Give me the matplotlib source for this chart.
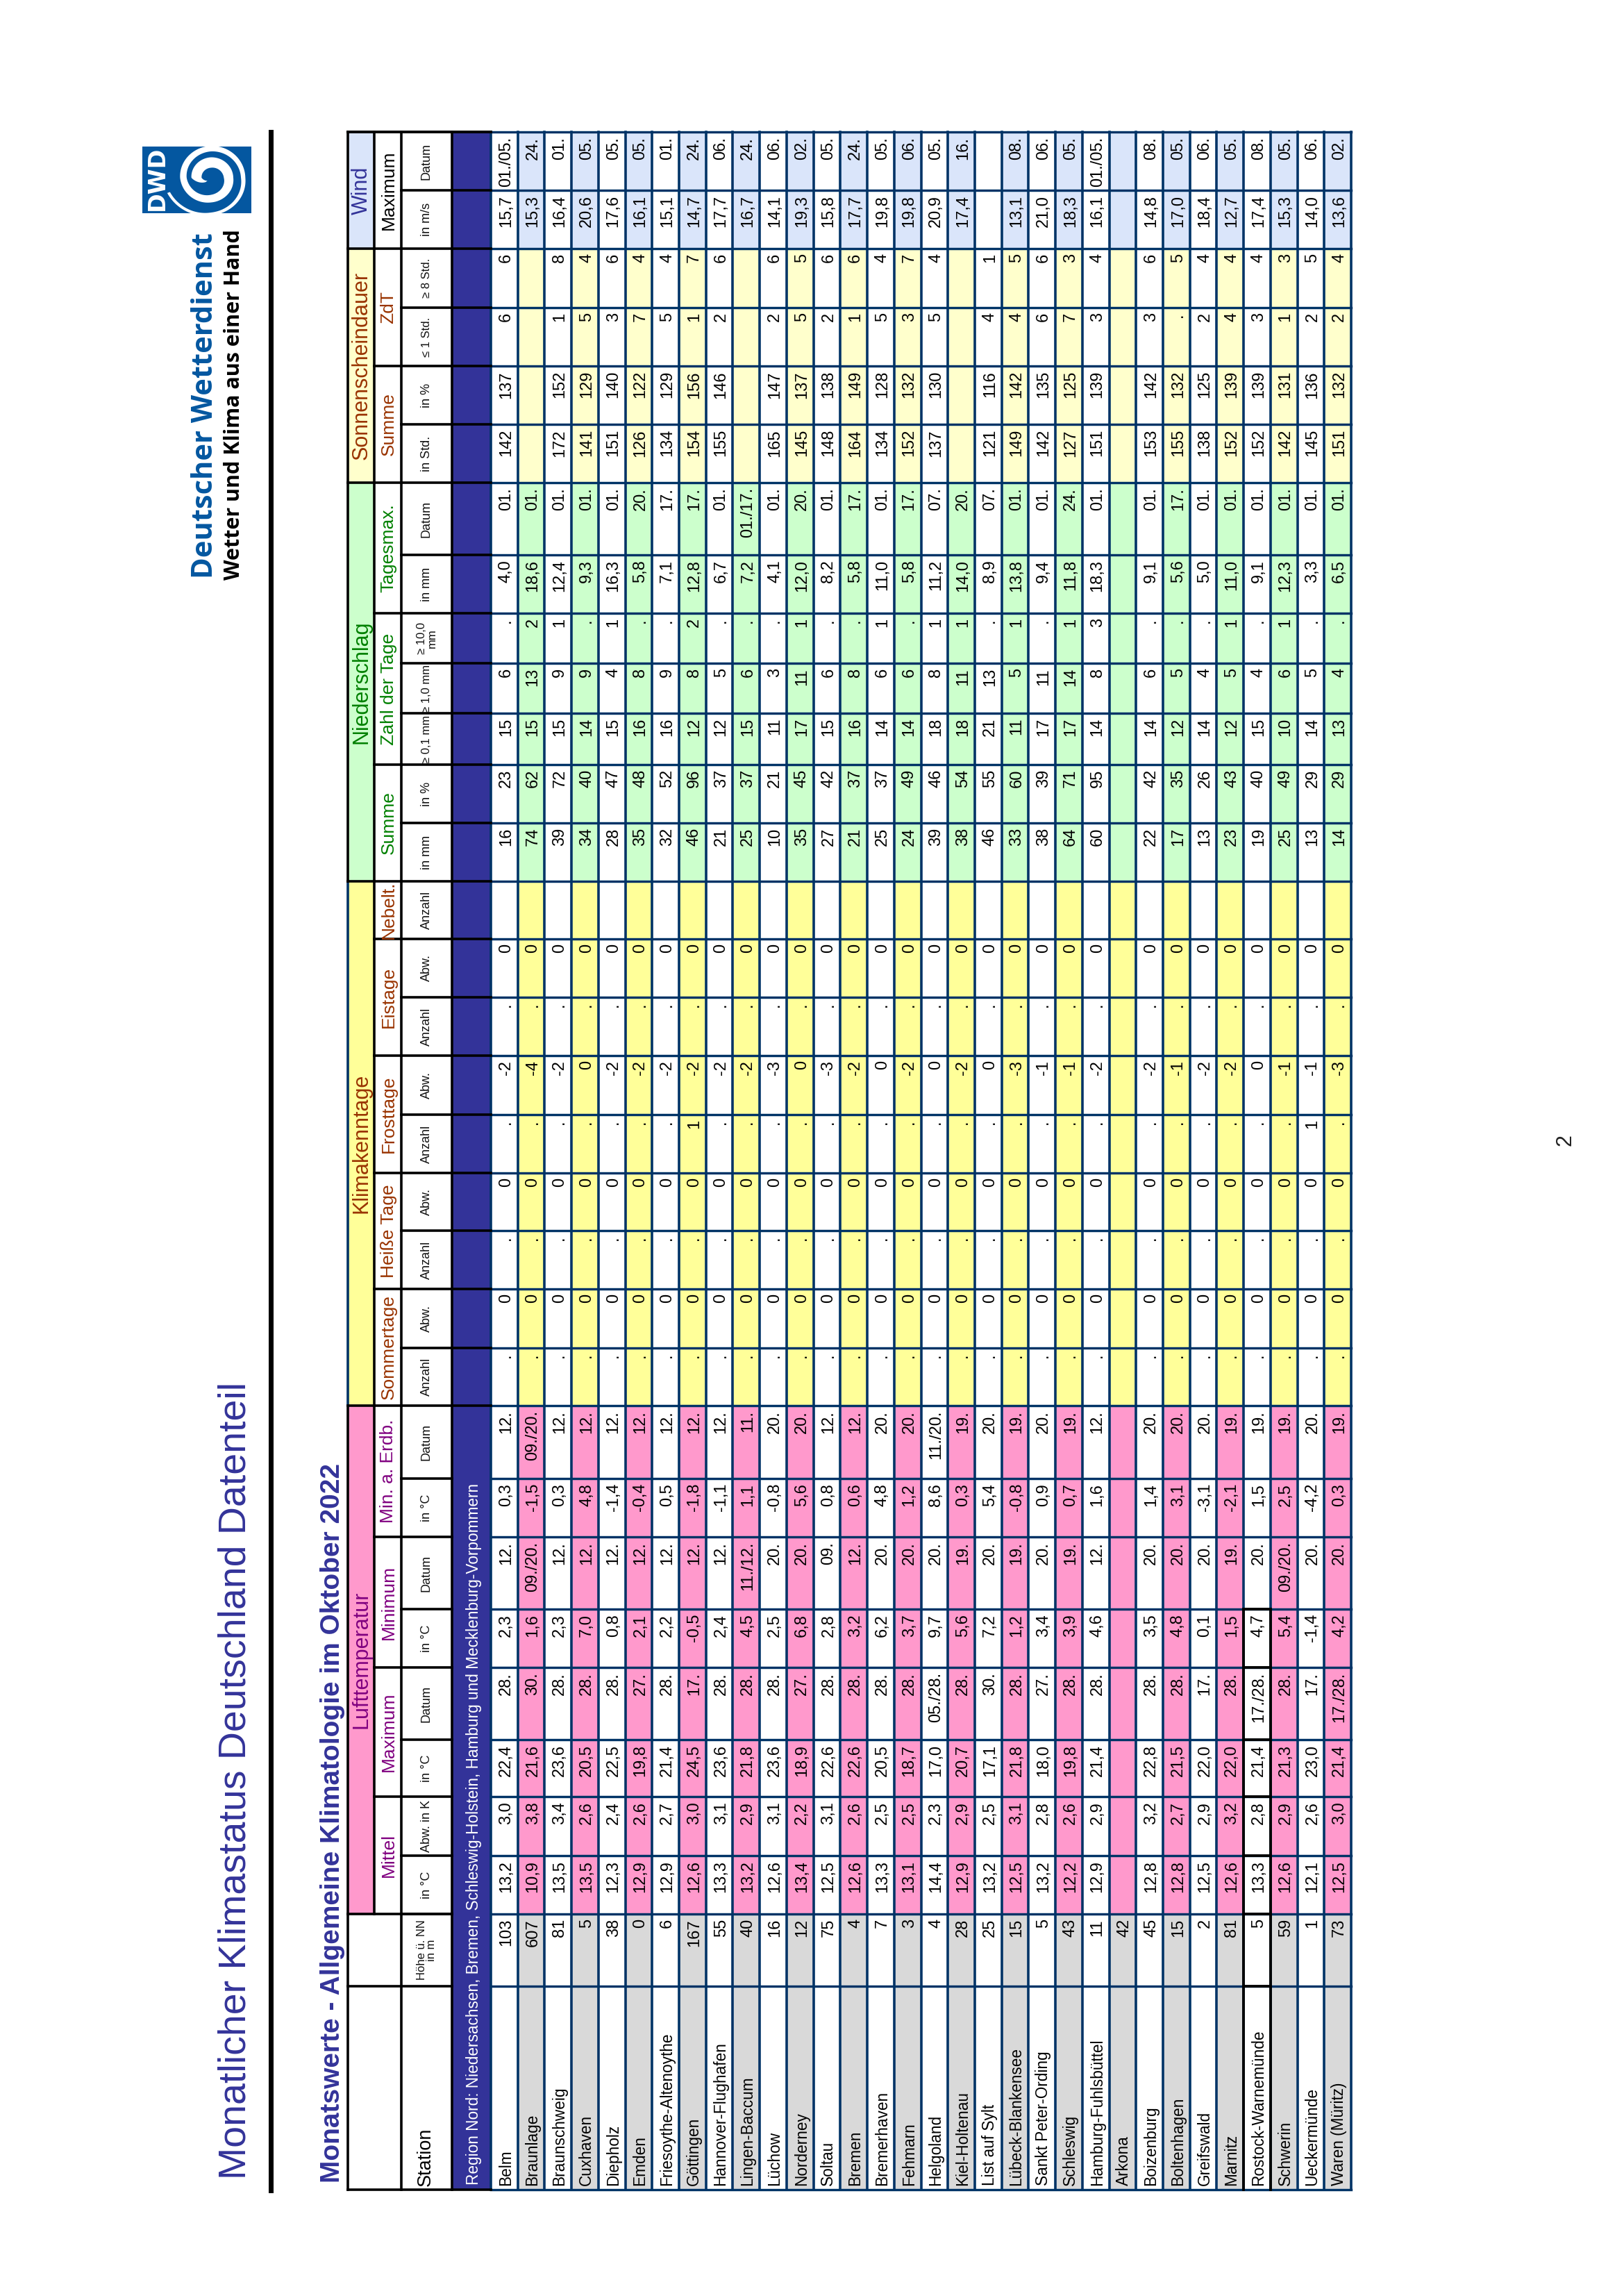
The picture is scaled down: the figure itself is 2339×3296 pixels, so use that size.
import numpy as np
import matplotlib
matplotlib.use("Agg")
import matplotlib.pyplot as plt
from matplotlib.patches import Rectangle, Polygon

plt.rcParams['font.family'] = ['Liberation Sans Narrow', 'Liberation Sans', 'DejaVu Sans']

# ------------------------------------------------------------------ data
STATIONS = ["Belm", "Braunlage", "Braunschweig", "Cuxhaven", "Diepholz", "Emden", "Friesoythe-Altenoythe",
            "Göttingen", "Hannover-Flughafen", "Lingen-Baccum", "Lüchow", "Norderney", "Soltau", "Bremen",
            "Bremerhaven", "Fehmarn", "Helgoland", "Kiel-Holtenau", "List auf Sylt", "Lübeck-Blankensee",
            "Sankt Peter-Ording", "Schleswig", "Hamburg-Fuhlsbüttel", "Arkona", "Boizenburg", "Boltenhagen",
            "Greifswald", "Marnitz", "Rostock-Warnemünde", "Schwerin", "Ueckermünde", "Waren (Müritz)"]
HOEHE = ["103","607","81","5","38","0","6","167","55","40","16","12","75","4","7","3","4","28","25","15","5","43","11","42","45","15","2","81","5","59","1","73"]
T_MITTEL = ["13,2","10,9","13,5","13,5","12,3","12,9","12,9","12,6","13,3","13,2","12,6","13,4","12,5","12,6","13,3","13,1","14,4","12,9","13,2","12,5","13,2","12,2","12,9","","12,8","12,8","12,5","12,6","13,3","12,6","12,1","12,5"]
T_ABW = ["3,0","3,8","3,4","2,6","2,4","2,6","2,7","3,0","3,1","2,9","3,1","2,2","3,1","2,6","2,5","2,5","2,3","2,9","2,5","3,1","2,8","2,6","2,9","","3,2","2,7","2,9","3,2","2,8","2,9","2,6","3,0"]
T_MAX = ["22,4","21,6","23,6","20,5","22,5","19,8","21,4","24,5","23,6","21,8","23,6","18,9","22,6","22,6","20,5","18,7","17,0","20,7","17,1","21,8","18,0","19,8","21,4","","22,8","21,5","22,0","22,0","21,4","21,3","23,0","21,4"]
T_MAX_DAT = ["28.","30.","28.","28.","28.","27.","28.","17.","28.","28.","28.","27.","28.","28.","28.","28.","05./28.","28.","30.","28.","27.","28.","28.","","28.","28.","17.","28.","17./28.","28.","17.","17./28."]
T_MIN = ["2,3","1,6","2,3","7,0","0,8","2,1","2,2","-0,5","2,4","4,5","2,5","6,8","2,8","3,2","6,2","3,7","9,7","5,6","7,2","1,2","3,4","3,9","4,6","","3,5","4,8","0,1","1,5","4,7","5,4","-1,4","4,2"]
T_MIN_DAT = ["12.","09./20.","12.","12.","12.","12.","12.","12.","12.","11./12.","20.","20.","09.","12.","20.","20.","20.","19.","20.","19.","20.","19.","12.","","20.","20.","20.","19.","20.","09./20.","20.","20."]
T_ERD = ["0,3","-1,5","0,3","4,8","-1,4","-0,4","0,5","-1,8","-1,1","1,1","-0,8","5,6","0,8","0,6","4,8","1,2","8,6","0,3","5,4","-0,8","0,9","0,7","1,6","","1,4","3,1","-3,1","-2,1","1,5","2,5","-4,2","0,3"]
T_ERD_DAT = ["12.","09./20.","12.","12.","12.","12.","12.","12.","12.","11.","20.","20.","12.","12.","20.","20.","11./20.","19.","20.","19.","20.","19.","12.","","20.","20.","20.","19.","19.","19.","20.","19."]
SOMMER_ANZ = ["."]*23 + [""] + ["."]*8
SOMMER_ABW = ["0"]*23 + [""] + ["0"]*8
HEISS_ANZ = ["."]*23 + [""] + ["."]*8
HEISS_ABW = ["0"]*23 + [""] + ["0"]*8
FROST_ANZ = [".",".",".",".",".",".",".","1",".",".",".",".",".",".",".",".",".",".",".",".",".",".",".","",".",".",".",".",".",".","1","."]
FROST_ABW = ["-2","-4","-2","0","-2","-2","-2","-2","-2","-2","-3","0","-3","-2","0","-2","0","-2","0","-3","-1","-1","-2","","-2","-1","-2","-2","0","-1","-1","-3"]
EIS_ANZ = ["."]*23 + [""] + ["."]*8
EIS_ABW = ["0"]*23 + [""] + ["0"]*8
NEBEL = [""]*32
NS_MM = ["16","74","39","34","28","35","32","46","21","25","10","35","27","21","25","24","39","38","46","33","38","64","60","","22","17","13","23","19","25","13","14"]
NS_PROZ = ["23","62","72","40","47","48","52","96","37","37","21","45","42","37","37","49","46","54","55","60","39","71","95","","42","35","26","43","40","49","29","29"]
NS_01 = ["15","15","15","14","15","16","16","12","12","15","11","17","15","16","14","14","18","18","21","11","17","17","14","","14","12","14","12","15","10","14","13"]
NS_10 = ["6","13","9","9","4","8","9","8","5","6","3","11","6","8","6","6","8","11","13","5","11","14","8","","6","5","4","5","4","6","5","4"]
NS_100 = [".","2","1",".","1",".",".","2",".",".",".","1",".",".","1",".","1","1",".","1",".","1","3","",".",".",".","1",".","1",".","."]
NS_TMAX = ["4,0","18,6","12,4","9,3","16,3","5,8","7,1","12,8","6,7","7,2","4,1","12,0","8,2","5,8","11,0","5,8","11,2","14,0","8,9","13,8","9,4","11,8","18,3","","9,1","5,6","5,0","11,0","9,1","12,3","3,3","6,5"]
NS_TMAX_DAT = ["01.","01.","01.","01.","01.","20.","17.","17.","01.","01./17.","01.","20.","01.","17.","01.","17.","07.","20.","07.","01.","01.","24.","01.","","01.","17.","01.","01.","01.","01.","01.","01."]
SO_STD = ["142","","172","141","151","126","134","154","155","","165","145","148","164","134","152","137","","121","149","142","127","151","","153","155","138","152","152","142","145","151"]
SO_PROZ = ["137","","152","129","140","122","129","156","146","","147","137","138","149","128","132","130","","116","142","135","125","139","","142","132","125","139","139","131","136","132"]
SO_1 = ["6","","1","5","3","7","5","1","2","","2","5","2","1","5","3","5","","4","4","6","7","3","","3",".","2","4","3","1","2","2"]
SO_8 = ["6","","8","4","6","4","4","7","6","","6","5","6","6","4","7","4","","1","5","6","3","4","","6","5","4","4","4","3","5","4"]
WIND_MAX = ["15,7","15,3","16,4","20,6","17,6","16,1","15,1","14,7","17,7","16,7","14,1","19,3","15,8","17,7","19,8","19,8","20,9","17,4","","13,1","21,0","18,3","16,1","","14,8","17,0","18,4","12,7","17,4","15,3","14,0","13,6"]
WIND_DAT = ["01./05.","24.","01.","05.","05.","05.","01.","24.","06.","24.","06.","02.","05.","24.","05.","06.","05.","16.","","08.","06.","05.","01./05.","","08.","05.","06.","05.","08.","05.","06.","02."]

UNITS = ["Höhe ü. NN\nin m","in °C","Abw. in K","in °C","Datum","in °C","Datum","in °C","Datum",
         "Anzahl","Abw.","Anzahl","Abw.","Anzahl","Abw.","Anzahl","Abw.","Anzahl",
         "in mm","in %","≥ 0,1 mm","≥ 1,0 mm","≥ 10,0\nmm","in mm","Datum",
         "in Std.","in %","≤ 1 Std.","≥ 8 Std.","in m/s","Datum"]
COLUMNS = [HOEHE,T_MITTEL,T_ABW,T_MAX,T_MAX_DAT,T_MIN,T_MIN_DAT,T_ERD,T_ERD_DAT,
           SOMMER_ANZ,SOMMER_ABW,HEISS_ANZ,HEISS_ABW,FROST_ANZ,FROST_ABW,EIS_ANZ,EIS_ABW,NEBEL,
           NS_MM,NS_PROZ,NS_01,NS_10,NS_100,NS_TMAX,NS_TMAX_DAT,
           SO_STD,SO_PROZ,SO_1,SO_8,WIND_MAX,WIND_DAT]

# ------------------------------------------------------------------ layout (page pixels)
W, H = 2339, 3296
EDGES = [3153,2860,2756,2672,2587,2505,2401,2317,2213,2129,2024,1941,1856,1772,1689,1605,1520,1436,1352,
         1269,1185,1101,1027,955,883,799,695,611,527,443,358,274,190]
X_L1, X_L2, X_L3, X_BLUE, X_ROW0, X_ROWN = 501, 539, 578, 651, 707, 1946
ROW_W = (X_ROWN - X_ROW0) / len(STATIONS)

NAVY = "#003366"
PINK, YEL, GRN, LYEL, LBLU, GRAY, BLUE = "#FF99CC", "#FFFF99", "#CCFFCC", "#FFFFCC", "#DAE5FA", "#D9D9D9", "#333399"
PURPLE, BROWN, GREEN = "#800080", "#993300", "#008000"
BANDS = [(2, 10, PINK, "Lufttemperatur", PURPLE), (10, 19, YEL, "Klimakenntage", BROWN),
         (19, 26, GRN, "Niederschlag", GREEN), (26, 30, LYEL, "Sonnenscheindauer", BROWN), (30, 32, LBLU, "Wind", BLUE)]
GROUPS = [(2,4,"Mittel",PURPLE),(4,6,"Maximum",PURPLE),(6,8,"Minimum",PURPLE),(8,10,"Min. a. Erdb.",PURPLE),
          (10,12,"Sommertage",BROWN),(12,14,"Heiße Tage",BROWN),(14,16,"Frosttage",BROWN),(16,18,"Eistage",BROWN),
          (18,19,"Nebelt.",BROWN),(19,21,"Summe",GREEN),(21,24,"Zahl der Tage",GREEN),(24,26,"Tagesmax.",GREEN),
          (26,28,"Summe",BROWN),(28,30,"ZdT",BROWN),(30,32,"Maximum","black")]

px = 0.72  # points per pixel at dpi 100
fig = plt.figure(figsize=(W/100, H/100), dpi=100, facecolor="white")
ax = fig.add_axes([0, 0, 1, 1])
ax.set_xlim(0, W); ax.set_ylim(H, 0); ax.axis("off")

def rect(x0, y0, x1, y1, c, z=1):
    ax.add_patch(Rectangle((x0, y0), x1-x0, y1-y0, fc=c, ec="none", lw=0, zorder=z))
def line(xs, ys, c, w, z=3):
    ax.plot(xs, ys, color=c, lw=w*px, solid_capstyle="projecting", zorder=z)

def col_color(ci):
    if ci < 2:
        return GRAY
    for a, b, c, _, _ in BANDS:
        if a <= ci < b:
            return c

# cell fills
for r in range(len(STATIONS)):
    if r % 2 == 1:
        x0 = X_ROW0 + r*ROW_W
        for ci in range(len(EDGES)-1):
            rect(x0, EDGES[ci+1], x0+ROW_W, EDGES[ci], col_color(ci))

# blue region row
rect(X_BLUE, EDGES[-1], X_ROW0, EDGES[0], BLUE)

# header bands
for a, b, c, name, tc in BANDS:
    rect(X_L1, EDGES[b], X_L2, EDGES[a], c)
    ax.text((X_L1+X_L2)/2+1, (EDGES[a]+EDGES[b])/2, name, rotation=90, ha="center", va="center",
            color=tc, fontsize=22, zorder=6)
for a, b, name, tc in GROUPS:
    ax.text((X_L2+X_L3)/2+1, (EDGES[a]+EDGES[b])/2, name, rotation=90, ha="center", va="center",
            color=tc, fontsize=19, zorder=6)
for i, u in enumerate(UNITS):
    fs = 12 if (u[0] in "≥≤" or "\n" in u) else 13
    ax.text((X_L3+X_BLUE)/2, (EDGES[i+1]+EDGES[i+2])/2, u, rotation=90, ha="center", va="center",
            color="#111111", fontsize=fs, zorder=6, linespacing=1.0, ma="center")
ax.text((X_L3+X_BLUE)/2-2, EDGES[0]-5, "Station", rotation=90, ha="center", va="bottom", fontsize=19.5, zorder=6)

# row lines
for r in range(len(STATIONS)+1):
    x = X_ROW0 + r*ROW_W
    line([x, x], [EDGES[-1], EDGES[0]], NAVY, 3.6)
# column lines
for e in EDGES:
    line([X_ROW0, X_ROWN], [e, e], NAVY, 3.4)

# header lines
line([X_L1, X_L1], [EDGES[10], EDGES[0]], "black", 3.6)
line([X_L1, X_L1], [EDGES[19], EDGES[10]], NAVY, 3.6)
line([X_L1, X_L1], [EDGES[-1], EDGES[19]], "black", 3.6)
line([X_L2, X_L2], [EDGES[-1], EDGES[2]], "black", 3.6)
line([X_L3, X_L3], [EDGES[-1], EDGES[0]], "black", 3.6)
line([X_BLUE, X_BLUE], [EDGES[-1], EDGES[0]], "black", 3.6)
line([X_L1, X_ROW0], [EDGES[0], EDGES[0]], "black", 3.6)
line([X_L1, X_ROW0], [EDGES[-1], EDGES[-1]], "black", 3.6)
line([X_L1, X_BLUE], [EDGES[1], EDGES[1]], "black", 3.6)
line([X_L1, X_BLUE], [EDGES[2], EDGES[2]], "black", 3.6)
for a, b, *_ in BANDS:
    line([X_L1, X_L2], [EDGES[b], EDGES[b]], "black", 3.6)
for a, b, *_ in GROUPS:
    line([X_L2, X_L3], [EDGES[b], EDGES[b]], "black", 3.6)
for i, e in enumerate(EDGES[2:], start=2):
    end = X_ROW0 if i >= 10 else X_BLUE
    line([X_L3, end], [e, e], "black", 3.6)

# Rostock row frame
ri = STATIONS.index("Rostock-Warnemünde")
xa, xb = X_ROW0 + ri*ROW_W, X_ROW0 + (ri+1)*ROW_W
line([xa, xa], [EDGES[0], EDGES[7]], "black", 3.8, z=4)
line([xb, xb], [EDGES[0], EDGES[7]], "black", 3.8, z=4)
for e in EDGES[1:8]:
    line([xa, xb], [e, e], "black", 3.8, z=4)

# region title
ax.text(689, EDGES[0]-7, "Region Nord: Niedersachsen, Bremen, Schleswig-Holstein, Hamburg und Mecklenburg-Vorpommern",
        rotation=90, rotation_mode="anchor", ha="left", va="baseline", color="white", fontsize=16.3, zorder=6)

# cell text
NUM = dict(rotation=90, rotation_mode="anchor", va="baseline", color="black", zorder=6)
for r, name in enumerate(STATIONS):
    xb_ = X_ROW0 + (r+0.5)*ROW_W + 8.5
    ax.text(xb_, EDGES[0]-6, name, ha="left", fontsize=16.3, **NUM)
    for ci, col in enumerate(COLUMNS):
        if col[r]:
            ax.text(xb_, EDGES[ci+2]+7, col[r], ha="right", fontsize=17, **NUM)

# page titles
ax.text(353, 3138, "Monatlicher Klimastatus Deutschland Datenteil", rotation=90, rotation_mode="anchor",
        ha="left", va="baseline", color=BLUE, fontsize=40)
ax.text(489, 3143, "Monatswerte - Allgemeine Klimatologie im Oktober 2022", rotation=90, rotation_mode="anchor",
        ha="left", va="baseline", color=BLUE, fontsize=28, fontweight="bold")
line([389.5, 389.5], [190, 3154], "black", 7)
ax.text(2254, 1642, "2", rotation=90, ha="center", va="center", fontsize=22, color="#222222")

# DWD logo
LOGO = "#0457A0"
rect(205, 211, 362, 307, LOGO)
ax.text(236, 257, "DWD", rotation=90, rotation_mode="anchor", ha="center", va="baseline", color="white",
        fontsize=24, fontweight="bold", family="Liberation Sans Narrow", zorder=3)
# spiral ribbon
ang = np.array([-40, 0, 90, 180, 270, 360, 450, 540, 630, 700])     # degrees clockwise from "left"
rad = np.array([8, 20, 22, 24, 30, 38, 42, 44, 52, 62])
wid = np.array([3, 14, 15, 13, 11, 9, 8, 6, 4, 4])
t = np.linspace(ang[0], ang[-1], 300)
r_ = np.interp(t, ang, rad); w_ = np.interp(t, ang, wid)
tr = np.deg2rad(t)
dx, dy = -np.cos(tr), -np.sin(tr)
cx, cy = 304, 256
outer = np.column_stack([cx + (r_+w_/2)*dx*1.05, cy + (r_+w_/2)*dy])
inner = np.column_stack([cx + (r_-w_/2)*dx*1.05, cy + (r_-w_/2)*dy])
sp = Polygon(np.vstack([outer, inner[::-1]]), fc="white", ec="none", zorder=3)
ax.add_patch(sp)
sp.set_clip_path(Rectangle((205, 211), 157, 96, transform=ax.transData))

ax.text(306, 833, "Deutscher Wetterdienst", rotation=90, rotation_mode="anchor", ha="left", va="baseline",
        color=LOGO, fontsize=30, fontweight="bold", family="Open Sans")
ax.text(345, 835, "Wetter und Klima aus einer Hand", rotation=90, rotation_mode="anchor", ha="left", va="baseline",
        color="black", fontsize=22, fontweight="bold", family="Open Sans")

fig.savefig("out.png", dpi=100, facecolor="white")
